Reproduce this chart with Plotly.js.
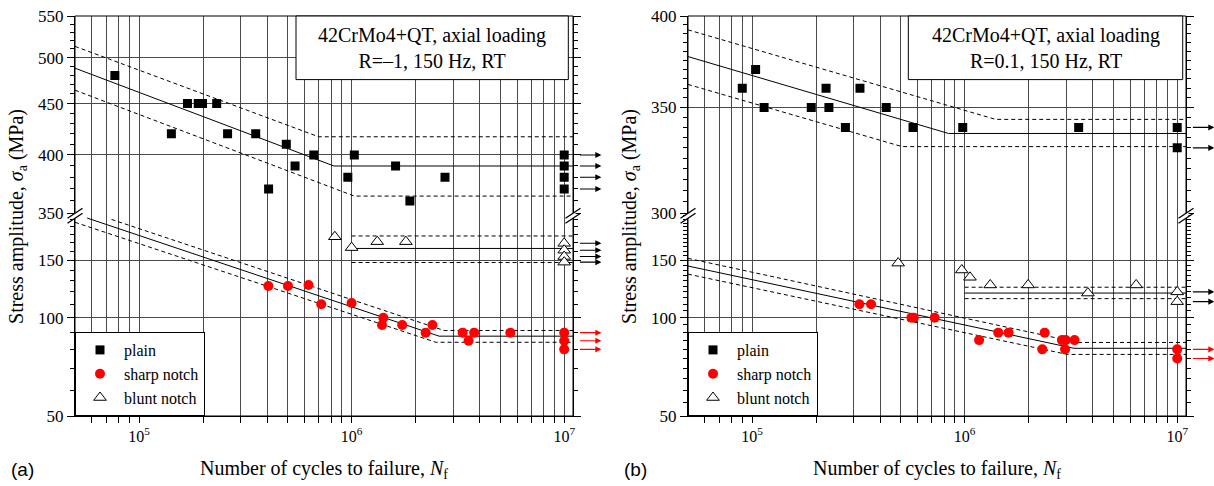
<!DOCTYPE html>
<html><head><meta charset="utf-8">
<script src="https://cdn.plot.ly/plotly-3.0.1.min.js"></script>
<style>html,body{margin:0;padding:0;background:#fff}</style>
</head><body><div id="chart" style="width:1214px;height:486px"></div>
<script>
// ---------- Panel (a): R = -1 ----------
const aPlainN = [7.7e4, 1.42e5, 1.69e5, 1.9e5, 1.99e5, 2.32e5, 2.61e5, 3.54e5, 4.07e5, 4.93e5, 5.42e5, 6.64e5, 9.6e5, 1.03e6, 1.61e6, 1.88e6, 2.75e6, 1e7, 1e7, 1e7, 1e7];
const aPlainS = [480, 420, 450, 450, 450, 450, 420, 420, 370, 410, 390, 400, 380, 400, 390, 360, 380, 400, 390, 380, 370];
const aSharpN = [4.06e5, 5.02e5, 6.27e5, 7.2e5, 1.0e6, 1.41e6, 1.39e6, 1.73e6, 2.23e6, 2.4e6, 3.33e6, 3.55e6, 3.77e6, 5.58e6, 1e7, 1e7, 1e7];
const aSharpS = [125, 125, 126, 110, 111, 100, 95, 95, 90, 95, 90, 85, 90, 90, 90, 85, 80];
const aBluntN = [8.34e5, 1.0e6, 1.32e6, 1.8e6, 1e7, 1e7, 1e7, 1e7];
const aBluntS = [177, 164, 171, 171, 169, 161, 154, 148];
// fitted S-N curves (knee points) and scatter bands
const aPlainFitN = [5e4, 8.26e5, 1.1e7],  aPlainFitS = [488, 390, 390];
const aPlainUpN  = [5e4, 7.0e5, 1.1e7],   aPlainUpS  = [513, 417, 417];
const aPlainLoN  = [5e4, 1.03e6, 1.1e7],  aPlainLoS  = [464, 364, 364];
const aSharpFitN = [5.7e4, 2.58e6, 1.1e7], aSharpFitS = [202, 87.8, 87.8];
const aSharpUpN  = [7.43e4, 2.72e6, 1.1e7], aSharpUpS = [200, 91.4, 91.4];
const aSharpLoN  = [5e4, 2.49e6, 1.1e7],  aSharpLoS  = [196, 84.1, 84.1];
const aBluntFitN = [1e6, 1.1e7], aBluntFitS = [163, 163];
const aBluntUpN  = [1e6, 1.1e7], aBluntUpS  = [178, 178];
const aBluntLoN  = [1e6, 1.1e7], aBluntLoS  = [147.6, 147.6];

// ---------- Panel (b): R = 0.1 ----------
const bPlainN = [9.0e4, 1.04e5, 1.14e5, 1.9e5, 2.23e5, 2.3e5, 2.75e5, 3.22e5, 4.28e5, 5.72e5, 9.8e5, 3.44e6, 1e7, 1e7];
const bPlainS = [360, 370, 350, 350, 360, 350, 340, 360, 350, 340, 340, 340, 340, 330];
const bSharpN = [3.2e5, 3.63e5, 5.62e5, 5.77e5, 7.23e5, 1.17e6, 1.44e6, 1.61e6, 2.32e6, 2.38e6, 2.87e6, 2.99e6, 3.29e6, 2.97e6, 1e7, 1e7];
const bSharpS = [110, 110, 100, 100, 100, 85.4, 90, 90, 80, 90, 85.4, 85.4, 85.4, 80, 80, 75];
const bBluntN = [4.87e5, 9.7e5, 1.06e6, 1.32e6, 1.99e6, 3.8e6, 6.41e6, 1e7, 1e7];
const bBluntS = [147, 140, 133, 126, 126, 119, 126, 120, 112];
const bPlainFitN = [5e4, 8.4e5, 1.1e7],  bPlainFitS = [377, 337, 337];
const bPlainUpN  = [5e4, 1.4e6, 1.1e7],  bPlainUpS  = [392, 344, 344];
const bPlainLoN  = [5e4, 5.08e5, 1.1e7], bPlainLoS  = [362, 330.6, 330.6];
const bSharpFitN = [5e4, 3.27e6, 1.1e7], bSharpFitS = [144, 80.6, 80.6];
const bSharpUpN  = [5e4, 3.39e6, 1.1e7], bSharpUpS  = [152, 84, 84];
const bSharpLoN  = [5e4, 3.04e6, 1.1e7], bSharpLoS  = [136, 77.2, 77.2];
const bBluntFitN = [1e6, 1.1e7], bBluntFitS = [119, 119];
const bBluntUpN  = [1e6, 1.1e7], bBluntUpS  = [124, 124];
const bBluntLoN  = [1e6, 1.1e7], bBluntLoS  = [114.4, 114.4];

// axis ticks
const xTickVals = [1e5, 1e6, 1e7];
const xTickText = ['10<sup>5</sup>', '10<sup>6</sup>', '10<sup>7</sup>'];
const xMinor = [6e4,7e4,8e4,9e4, 2e5,3e5,4e5,5e5,6e5,7e5,8e5,9e5, 2e6,3e6,4e6,5e6,6e6,7e6,8e6,9e6];
const aLowTicks = [50, 100, 150], aUpTicks = [350, 400, 450, 500, 550];
const bLowTicks = [50, 100, 150], bUpTicks = [300, 350, 400];
const aLowMinor = [60,70,80,90,110,120,130,140,160,170,180,190,200];
const aUpMinor = [360,370,380,390,410,420,430,440,460,470,480,490,510,520,530,540];
const bLowMinor = [55,60,65,70,75,80,85,90,95,105,110,115,120,125,130,135,140,145,155,160,165,170,175,180,185,190,195,200,205];
const bUpMinor = [305,310,315,320,325,330,335,340,345,355,360,365,370,375,380,385,390,395];
const RUNOUT = 1e7;
const boxText = ['42CrMo4+QT, axial loading<br>R=\u20131, 150 Hz, RT', '42CrMo4+QT, axial loading<br>R=0.1, 150 Hz, RT'];

// ---------- font selection (Times-like if available, otherwise scale to match widths) ----------
const ctx = document.createElement('canvas').getContext('2d');
function hasFont(name) {
  const t = 'mmmmmmmmmmlli WwQq 0123456789';
  return ['monospace', 'sans-serif'].some(g => {
    ctx.font = '40px ' + g; const w0 = ctx.measureText(t).width;
    ctx.font = '40px "' + name + '", ' + g; return Math.abs(ctx.measureText(t).width - w0) > 0.5;
  });
}
const serifName = ['Liberation Serif', 'Times New Roman', 'Tinos', 'Nimbus Roman', 'Nimbus Roman No9 L', 'FreeSerif', 'DejaVu Serif'].find(hasFont);
const SERIF = serifName ? '"' + serifName + '", serif' : 'serif';
ctx.font = '20px ' + SERIF;
const FS = Math.min(1, 236 / ctx.measureText('42CrMo4+QT, axial loading').width);

const L = Math.log10;
const GRID = '#4a4a4a';
const traces = [];

function line(N, S, xa, ya, dashed) {
  traces.push({type:'scatter', mode:'lines', x:N, y:S, xaxis:xa, yaxis:ya, showlegend:false, hoverinfo:'skip',
    line:{color:'#000', width:1, dash: dashed ? '4px,3px' : 'solid'}});
}
function pts(name, N, S, xa, ya, marker, legend) {
  traces.push({type:'scatter', mode:'markers', name, x:N, y:S, xaxis:xa, yaxis:ya, marker, legend});
}
const mPlain = {symbol:'square', size:9, color:'#000'};
const mSharp = {symbol:'circle', size:10, color:'#ff0000'};
const mBlunt = {symbol:'triangle-up', size:11, color:'#fff', line:{color:'#000', width:1}};

[[aPlainFitN,aPlainFitS,'y2',0],[aPlainUpN,aPlainUpS,'y2',1],[aPlainLoN,aPlainLoS,'y2',1],
 [aSharpFitN,aSharpFitS,'y',0],[aSharpUpN,aSharpUpS,'y',1],[aSharpLoN,aSharpLoS,'y',1],
 [aBluntFitN,aBluntFitS,'y',0],[aBluntUpN,aBluntUpS,'y',1],[aBluntLoN,aBluntLoS,'y',1]]
 .forEach(d => line(d[0], d[1], 'x', d[2], d[3]));
[[bPlainFitN,bPlainFitS,'y4',0],[bPlainUpN,bPlainUpS,'y4',1],[bPlainLoN,bPlainLoS,'y4',1],
 [bSharpFitN,bSharpFitS,'y3',0],[bSharpUpN,bSharpUpS,'y3',1],[bSharpLoN,bSharpLoS,'y3',1],
 [bBluntFitN,bBluntFitS,'y3',0],[bBluntUpN,bBluntUpS,'y3',1],[bBluntLoN,bBluntLoS,'y3',1]]
 .forEach(d => line(d[0], d[1], 'x2', d[2], d[3]));

pts('plain', aPlainN, aPlainS, 'x', 'y2', mPlain, 'legend');
pts('sharp notch', aSharpN, aSharpS, 'x', 'y', mSharp, 'legend');
pts('blunt notch', aBluntN, aBluntS, 'x', 'y', mBlunt, 'legend');
pts('plain', bPlainN, bPlainS, 'x2', 'y4', mPlain, 'legend2');
pts('sharp notch', bSharpN, bSharpS, 'x2', 'y3', mSharp, 'legend2');
pts('blunt notch', bBluntN, bBluntS, 'x2', 'y3', mBlunt, 'legend2');

// run-out arrows
const annotations = [];
function arrows(N, S, xref, yref, color) {
  N.forEach((n, i) => {
    if (n >= RUNOUT) annotations.push({xref: xref + ' domain', yref, x: 1.057, y: L(S[i]), ax: -23, ay: 0,
      axref:'pixel', ayref:'pixel', text:'', showarrow:true, arrowhead:2, arrowsize:1.1, arrowwidth:1.1, arrowcolor: color, standoff:0});
  });
}
arrows(aPlainN, aPlainS, 'x', 'y2', '#000');
arrows(aBluntN, aBluntS, 'x', 'y', '#000');
arrows(aSharpN, aSharpS, 'x', 'y', '#ff0000');
arrows(bPlainN, bPlainS, 'x2', 'y4', '#000');
arrows(bBluntN, bBluntS, 'x2', 'y3', '#000');
arrows(bSharpN, bSharpS, 'x2', 'y3', '#ff0000');

// titles and text boxes
['x','x2'].forEach((xr, k) => {
  annotations.push({xref: xr + ' domain', yref:'paper', x: k ? 0.718 : 0.717, y: 0.92, text: boxText[k], showarrow:false,
    font:{family:SERIF, size:20*FS, color:'#000'}, xanchor:'center', yanchor:'middle'});
  annotations.push({xref: xr + ' domain', yref:'paper', x: 0.5, y: -0.1325, text:'Number of cycles to failure, <i>N</i><sub>f</sub>',
    showarrow:false, font:{family:SERIF, size:20*FS, color:'#000'}, xanchor:'center', yanchor:'middle'});
  annotations.push({xref: xr + ' domain', yref:'paper', x: -0.1165, y: 0.5, textangle:-90, text:'Stress amplitude, <i>\u03c3</i><sub>a</sub> (MPa)',
    showarrow:false, font:{family:SERIF, size:20*FS, color:'#000'}, xanchor:'center', yanchor:'middle'});
  annotations.push({xref: xr + ' domain', yref:'paper', x: -0.106, y: -0.1325, text: k ? '(b)' : '(a)',
    showarrow:false, font:{family:'"Liberation Sans", Arial, sans-serif', size:19, color:'#000'}, xanchor:'center', yanchor:'middle'});
});

// shapes: frames, text boxes, axis breaks
const W = 1111, H = 400, ML = 75, MT = 16;
const px = p => (p - ML) / W, py = p => (MT + H - p) / H;
const shapes = [];
['x','x2'].forEach((xr, k) => {
  shapes.push({type:'rect', xref: xr + ' domain', yref:'paper', x0:0, x1:1, y0:0, y1:1, line:{color:'#000', width:1}, layer:'above'});
  shapes.push({type:'rect', xref: xr + ' domain', yref:'paper', x0: k ? 0.4424 : 0.4438, x1: k ? 0.9934 : 0.9906, y0: 0.841, y1: 1,
    line:{color:'#000', width:1}, fillcolor:'#fff', layer:'above'});
});
function breakMark(cx, cy) {
  const q = [[cx-2.5, cy-0.83], [cx+2.5, cy-4.17], [cx+2.5, cy+0.83], [cx-2.5, cy+4.17]];
  shapes.push({type:'path', xref:'paper', yref:'paper', layer:'above', line:{width:0}, fillcolor:'#fff',
    path: 'M' + q.map(p => px(p[0]) + ',' + py(p[1])).join('L') + 'Z'});
  [[2.5, -7.5], [7.5, -2.5]].forEach(o => {
    shapes.push({type:'line', xref:'paper', yref:'paper', layer:'above', line:{color:'#000', width:1.3},
      x0: px(cx-7.5), y0: py(cy+o[0]), x1: px(cx+7.5), y1: py(cy+o[1])});
  });
}
[75, 573, 688, 1186].forEach(cx => breakMark(cx, 215.8));

function xAxis(domain, anchor) {
  return {type:'log', domain, anchor, range:[L(5e4), L(1.1e7)], tickmode:'array', tickvals:xTickVals, ticktext:xTickText,
    showgrid:true, gridcolor:GRID, gridwidth:1, ticks:'outside', ticklen:6, tickcolor:'#000', tickwidth:1,
    tickfont:{family:SERIF, size:16*FS, color:'#000'}, showline:true, linecolor:'#000', linewidth:1, zeroline:false,
    minor:{tickmode:'array', tickvals:xMinor, ticks:'outside', ticklen:6, tickcolor:'#000', tickwidth:1, showgrid:true, gridcolor:GRID, gridwidth:1}};
}
function yAxis(domain, anchor, lo, hi, tv, mv) {
  return {type:'log', domain, anchor, range:[L(lo), L(hi)], tickmode:'array', tickvals:tv, ticktext:tv.map(String),
    showgrid:true, gridcolor:GRID, gridwidth:1, ticks:'outside', ticklen:7, tickcolor:'#000', tickwidth:1,
    tickfont:{family:SERIF, size:17*FS, color:'#000'}, showline:true, mirror:'ticks', linecolor:'#000', linewidth:1, zeroline:false,
    minor:{tickmode:'array', tickvals:mv, ticks:'outside', ticklen:4, tickcolor:'#000', tickwidth:1, showgrid:false}};
}
const BRK = 0.507;
const legendStyle = x => ({x, y:0, xref:'paper', yref:'paper', xanchor:'left', yanchor:'bottom', bgcolor:'#fff',
  bordercolor:'#000', borderwidth:1, font:{family:SERIF, size:16*FS, color:'#000'}, tracegroupgap:0, itemwidth:38});

const layout = {
  width:1214, height:486, margin:{l:ML, r:28, t:MT, b:70}, paper_bgcolor:'#fff', plot_bgcolor:'#fff',
  font:{family:SERIF, color:'#000'},
  xaxis: xAxis([0, 498/W], 'y'),
  xaxis2: xAxis([613/W, 1], 'y3'),
  yaxis: yAxis([0, BRK], 'x', 50, 209, aLowTicks, aLowMinor),
  yaxis2: yAxis([BRK, 1], 'x', 350, 550, aUpTicks, aUpMinor),
  yaxis3: yAxis([0, BRK], 'x2', 50, 209, bLowTicks, bLowMinor),
  yaxis4: yAxis([BRK, 1], 'x2', 300, 400, bUpTicks, bUpMinor),
  legend: legendStyle(0),
  legend2: legendStyle(613/W),
  annotations, shapes, showlegend:true, hovermode:false
};
Plotly.newPlot('chart', traces, layout, {displayModeBar:false, staticPlot:true});
</script></body></html>
